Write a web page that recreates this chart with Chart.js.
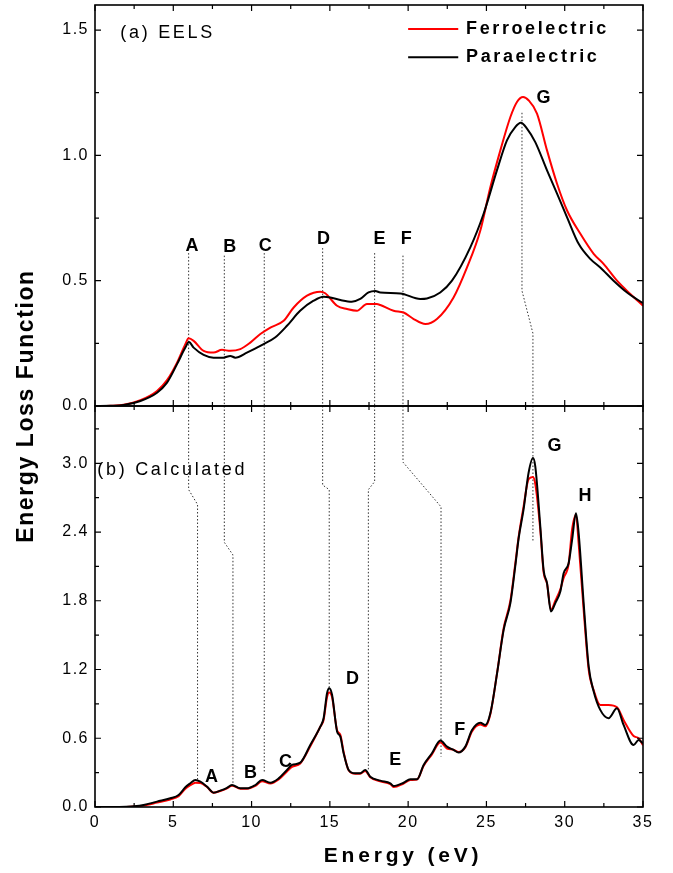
<!DOCTYPE html>
<html><head><meta charset="utf-8">
<script src="https://cdn.jsdelivr.net/npm/chart.js@4.4.0/dist/chart.umd.min.js"></script>
<style>html,body{margin:0;padding:0;background:#fff}#wrap{width:673px;height:873px;position:relative}</style>
</head><body><div id="wrap"><canvas id="c"></canvas></div>
<script>
// ---------- data ----------
const seriesNames = ['Ferroelectric', 'Paraelectric'];
const seriesColors = ['#ff0000', '#000000'];

// (a) EELS
const eelsEFerro = [0,1,1.83,2.9,3.96,4.6,5.24,5.77,5.98,6.3,6.94,7.57,8.11,8.64,9.28,9.92,10.56,11.2,12.05,12.69,13.54,14.39,14.7,15.46,16.1,16.73,17.37,18.0,18.22,19.07,19.71,20.35,21.1,21.84,22.9,23.76,24.61,25.25,25.89,26.53,26.95,27.34,27.69,28.23,28.87,29.51,30.15,31.0,31.85,32.48,33.34,34.19,35];
const eelsVFerro = [0,0.001,0.005,0.023,0.06,0.103,0.173,0.247,0.27,0.26,0.22,0.213,0.224,0.22,0.227,0.253,0.287,0.313,0.34,0.393,0.44,0.456,0.45,0.4,0.387,0.38,0.407,0.407,0.403,0.38,0.373,0.347,0.327,0.347,0.433,0.553,0.7,0.873,1.02,1.153,1.213,1.233,1.22,1.167,1.02,0.887,0.78,0.687,0.607,0.567,0.5,0.447,0.4];
const eelsEPara = [0,1,1.83,2.9,3.96,4.6,5.24,5.77,6.0,6.3,6.94,7.57,8.2,8.64,8.96,9.7,10.77,11.5,12.26,13.1,13.96,14.6,15.03,15.67,16.4,16.94,17.47,17.9,18.22,19.5,20.78,21.2,22.05,22.8,23.97,24.82,25.67,26.31,26.84,27.2,27.59,28.12,28.87,29.51,30.15,30.89,31.63,32.27,33.12,33.98,35];
const eelsVPara = [0,0.001,0.004,0.02,0.053,0.093,0.167,0.233,0.255,0.233,0.204,0.193,0.193,0.2,0.193,0.213,0.247,0.273,0.32,0.38,0.42,0.436,0.433,0.423,0.416,0.427,0.453,0.459,0.453,0.449,0.427,0.429,0.453,0.5,0.633,0.767,0.94,1.06,1.113,1.13,1.107,1.053,0.94,0.847,0.753,0.647,0.587,0.553,0.5,0.453,0.41];

// (b) Calculated
const calcE = [0,1,2,2.5,3.1,3.96,4.81,5.34,5.77,6.09,6.41,6.73,7.15,7.57,8.0,8.4,8.75,9.28,9.71,10.24,10.67,11.2,11.73,12.26,12.58,13.11,13.75,14.39,14.6,14.82,14.96,15.14,15.46,15.67,15.88,16.2,16.62,16.94,17.26,17.58,18.22,18.86,19.07,19.71,20.14,20.57,20.99,21.52,22.06,22.48,22.9,23.22,23.65,24.08,24.61,24.93,25.25,25.68,26.1,26.53,26.84,27.06,27.37,27.69,27.97,28.12,28.44,28.65,28.87,29.12,29.4,29.72,29.93,30.25,30.47,30.72,30.89,31.21,31.53,31.85,32.27,32.8,33.34,33.76,34.4,34.72,35];
const calcVPara = [0,0,0.002,0.006,0.017,0.047,0.076,0.105,0.172,0.207,0.236,0.221,0.178,0.125,0.143,0.165,0.192,0.163,0.163,0.192,0.236,0.212,0.25,0.323,0.367,0.387,0.541,0.701,0.774,0.993,1.037,0.98,0.66,0.614,0.469,0.323,0.294,0.294,0.323,0.265,0.23,0.207,0.183,0.212,0.242,0.242,0.367,0.469,0.58,0.527,0.498,0.475,0.527,0.672,0.736,0.716,0.818,1.167,1.546,1.78,2.1,2.348,2.595,2.915,3.046,2.974,2.45,2.07,1.954,1.706,1.78,1.881,2.04,2.128,2.33,2.564,2.39,1.78,1.227,1.008,0.848,0.775,0.862,0.716,0.541,0.585,0.556];
const calcVFerro = [0,0,0.001,0.004,0.012,0.038,0.066,0.095,0.16,0.19,0.212,0.21,0.175,0.125,0.14,0.16,0.185,0.16,0.16,0.185,0.225,0.205,0.24,0.31,0.35,0.38,0.53,0.7,0.76,0.96,1.0,0.96,0.67,0.63,0.48,0.32,0.29,0.29,0.315,0.26,0.225,0.2,0.175,0.205,0.235,0.24,0.36,0.46,0.565,0.51,0.5,0.48,0.52,0.66,0.72,0.705,0.81,1.17,1.56,1.8,2.12,2.36,2.62,2.86,2.88,2.82,2.42,2.05,1.95,1.72,1.8,1.9,2.0,2.12,2.42,2.55,2.3,1.72,1.2,1.02,0.89,0.89,0.87,0.76,0.62,0.6,0.54];

// tick labels
const xTicks = [0,5,10,15,20,25,30,35];
const eelsTicks = [0,0.5,1.0,1.5];
const calcTicks = [0,0.6,1.2,1.8,2.4,3.0];

// peak labels
const eelsPeakNames = ['A','B','C','D','E','F','G'];
const eelsPeakX = [6.19,8.6,10.87,14.6,18.17,19.88,28.65];
const eelsPeakY = [0.64,0.633,0.64,0.667,0.667,0.667,1.227];
const calcPeakNames = ['A','B','C','D','E','F','G','H'];
const calcPeakX = [7.44,9.93,12.17,16.45,19.18,23.3,29.35,31.3];
const calcPeakY = [0.26,0.30,0.39,1.115,0.41,0.67,3.15,2.71];

// dotted guide lines (x, y polylines) in each panel
const guideXEels = [[5.98,5.98],[8.26,8.26],[10.81,10.81],[14.54,14.54],[17.86,17.86],[19.67,19.67],[27.27,27.27,27.97,27.97]];
const guideYEels = [[0.61,0],[0.60,0],[0.61,0],[0.63,0],[0.61,0],[0.60,0],[1.17,0.46,0.29,0]];
const guideXCalc = [[5.98,5.98,6.55,6.55],[8.26,8.26,8.81,8.81],[10.81,10.81],[14.54,14.54,14.96,14.96],[17.86,17.86,17.46,17.46],[19.67,19.67,22.1,22.1],[27.97,27.97]];
const guideYCalc = [[3.5,2.77,2.64,0.24],[3.5,2.31,2.2,0.21],[3.5,0.30],[3.5,2.81,2.77,1.02],[3.5,2.84,2.77,0.32],[3.5,3.01,2.62,0.44],[3.5,2.32]];

// ---------- chart ----------
const FONT = '"Liberation Sans", Arial, sans-serif';
const pts = (xs, ys) => xs.map((x, i) => ({x: x, y: ys[i]}));

const curve = (label, color, data, axis) => ({
  label: label, data: data, yAxisID: axis, xAxisID: 'x',
  borderColor: color, backgroundColor: color, borderWidth: 2,
  pointRadius: 0, cubicInterpolationMode: 'monotone', fill: false
});
const datasets = [
  curve(seriesNames[1], seriesColors[1], pts(eelsEPara, eelsVPara), 'yt'),
  curve(seriesNames[1], seriesColors[1], pts(calcE, calcVPara), 'yb'),
  curve(seriesNames[0], seriesColors[0], pts(eelsEFerro, eelsVFerro), 'yt'),
  curve(seriesNames[0], seriesColors[0], pts(calcE, calcVFerro), 'yb')
];
guideXEels.forEach((xs, i) => datasets.push({
  label: 'guide', data: pts(xs, guideYEels[i]), yAxisID: 'yt', xAxisID: 'x',
  borderColor: '#333', borderWidth: 1, borderDash: [1.5, 2], pointRadius: 0, tension: 0, fill: false
}));
guideXCalc.forEach((xs, i) => datasets.push({
  label: 'guide', data: pts(xs, guideYCalc[i]), yAxisID: 'yb', xAxisID: 'x',
  borderColor: '#333', borderWidth: 1, borderDash: [1.5, 2], pointRadius: 0, tension: 0, fill: false
}));

function yScale(min, max, ticksArr) {
  return {
    type: 'linear', position: 'left', stack: 'panels', stackWeight: 1,
    min: min, max: max,
    afterBuildTicks: s => { s.ticks = ticksArr.map(v => ({value: v})); },
    afterFit: s => { s.width = 95; s.paddingTop = 0; s.paddingBottom = 0; },
    grid: {display: false, drawTicks: false}, border: {display: false},
    ticks: {font: {family: FONT, size: 16}, color: '#000', padding: 6, autoSkip: false,
            callback: v => Number(v).toFixed(1)}
  };
}

function drawText(ctx, s, x, y, font, spacing, align, baseline) {
  ctx.font = font;
  ctx.letterSpacing = spacing;
  ctx.textAlign = align;
  ctx.textBaseline = baseline;
  ctx.fillText(s, x, y);
}

const inkPlugin = {
  id: 'ink',
  beforeDraw(chart) { chart.ctx.letterSpacing = '1.5px'; },
  afterDraw(chart) {
    const ctx = chart.ctx;
    const xs = chart.scales.x, yt = chart.scales.yt, yb = chart.scales.yb;
    const L = chart.chartArea.left, R = chart.chartArea.right;
    ctx.save();
    ctx.strokeStyle = '#000';
    // ticks
    ctx.lineWidth = 1.2;
    ctx.beginPath();
    [[yt, eelsTicks], [yb, calcTicks]].forEach(([ys, arr]) => {
      const step = arr[1] - arr[0];
      const vals = [];
      arr.forEach(v => { vals.push([v, 6]); if (v + step / 2 < ys.max) vals.push([v + step / 2, 4]); });
      vals.forEach(([v, len]) => {
        const p = ys.getPixelForValue(v);
        ctx.moveTo(L, p); ctx.lineTo(L + len, p);
        ctx.moveTo(R, p); ctx.lineTo(R - len, p);
      });
      const xstep = xTicks[1] - xTicks[0];
      const xv = [];
      xTicks.forEach(v => { xv.push([v, 6]); if (v + xstep / 2 < xs.max) xv.push([v + xstep / 2, 4]); });
      xv.forEach(([v, len]) => {
        const p = xs.getPixelForValue(v);
        ctx.moveTo(p, ys.bottom); ctx.lineTo(p, ys.bottom - len);
        ctx.moveTo(p, ys.top); ctx.lineTo(p, ys.top + len);
      });
    });
    ctx.stroke();
    // frames
    ctx.lineWidth = 1.6;
    [yt, yb].forEach(ys => ctx.strokeRect(L, ys.top, R - L, ys.bottom - ys.top));

    ctx.fillStyle = '#000';
    // peak labels
    const bold18 = 'bold 18px ' + FONT;
    eelsPeakNames.forEach((n, i) => drawText(ctx, n, xs.getPixelForValue(eelsPeakX[i]), yt.getPixelForValue(eelsPeakY[i]), bold18, '0px', 'center', 'middle'));
    calcPeakNames.forEach((n, i) => drawText(ctx, n, xs.getPixelForValue(calcPeakX[i]), yb.getPixelForValue(calcPeakY[i]), bold18, '0px', 'center', 'middle'));
    // panel labels
    drawText(ctx, '(a) EELS', xs.getPixelForValue(1.62), yt.getPixelForValue(1.49), '18px ' + FONT, '2.7px', 'left', 'middle');
    drawText(ctx, '(b) Calculated', xs.getPixelForValue(0.15), yb.getPixelForValue(2.94), '18px ' + FONT, '2.7px', 'left', 'middle');
    // legend
    const legY = [1.504, 1.392];
    [0, 1].forEach(i => {
      const py = yt.getPixelForValue(legY[i]);
      ctx.strokeStyle = seriesColors[i];
      ctx.lineWidth = 2;
      ctx.beginPath();
      ctx.moveTo(xs.getPixelForValue(20.0), py);
      ctx.lineTo(xs.getPixelForValue(23.2), py);
      ctx.stroke();
      drawText(ctx, seriesNames[i], xs.getPixelForValue(23.7), py, bold18, '2.6px', 'left', 'middle');
    });
    // axis titles
    drawText(ctx, 'Energy (eV)', (L + R) / 2 + 34, 862, 'bold 21px ' + FONT, '3.8px', 'center', 'alphabetic');
    ctx.save();
    ctx.translate(33, (yt.top + yb.bottom) / 2);
    ctx.rotate(-Math.PI / 2);
    drawText(ctx, 'Energy Loss Function', 0, 0, 'bold 23px ' + FONT, '1.6px', 'center', 'alphabetic');
    ctx.restore();
    ctx.restore();
  }
};

new Chart(document.getElementById('c'), {
  type: 'line',
  data: {datasets: datasets},
  options: {
    responsive: true, maintainAspectRatio: false, animation: false,
    events: [],
    layout: {padding: {left: 0, top: 5, right: 30, bottom: 0}},
    plugins: {legend: {display: false}, tooltip: {enabled: false}},
    scales: {
      x: {
        type: 'linear', position: 'bottom', min: 0, max: 35,
        afterBuildTicks: s => { s.ticks = xTicks.map(v => ({value: v})); },
        afterFit: s => { s.height = 66; s.paddingLeft = 0; s.paddingRight = 0; },
        grid: {display: false, drawTicks: false}, border: {display: false},
        ticks: {font: {family: FONT, size: 16}, color: '#000', padding: 6, maxRotation: 0, autoSkip: false,
                callback: v => String(v)}
      },
      yb: yScale(0, 3.5, calcTicks),
      yt: yScale(0, 1.6, eelsTicks)
    }
  },
  plugins: [inkPlugin]
});
</script></body></html>
